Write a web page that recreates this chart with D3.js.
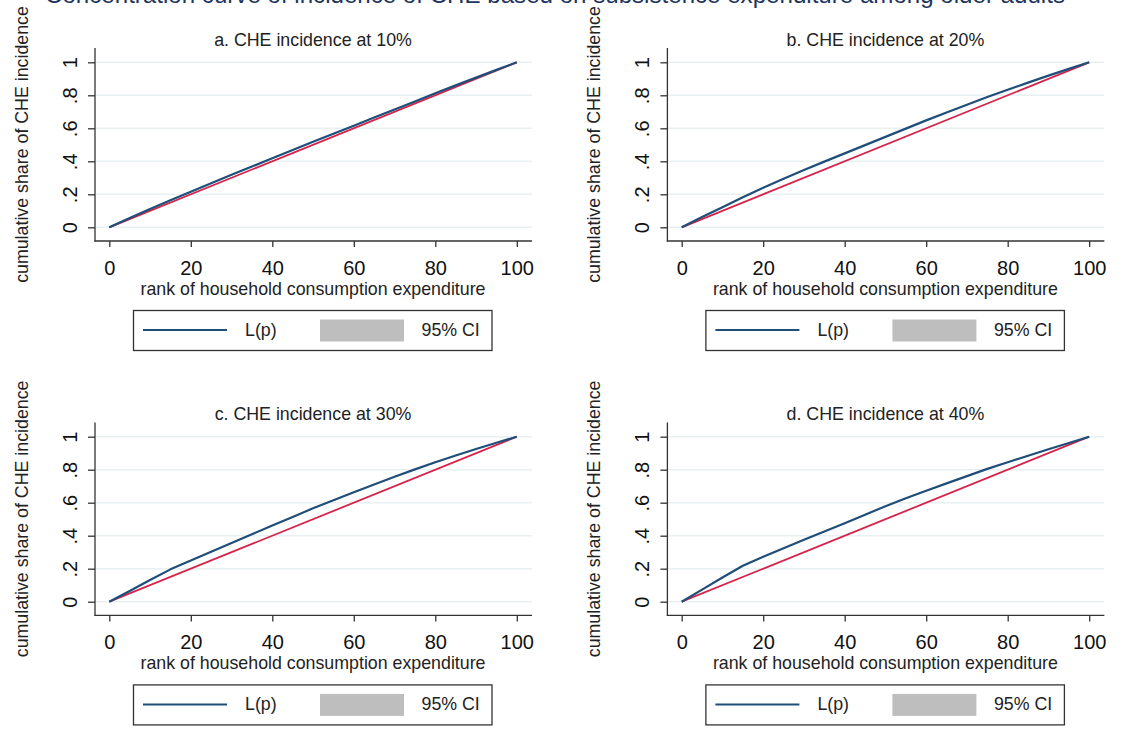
<!DOCTYPE html>
<html><head><meta charset="utf-8">
<script src="https://cdn.jsdelivr.net/npm/d3@7"></script>
<style>
body{margin:0;background:#fff;}
svg{display:block;font-family:"Liberation Sans",Arial,sans-serif;}
</style>
</head><body>
<svg id="chart" width="1125" height="731"></svg>
<script>
// ---- data ----
const mainTitle = "Concentration curve of incidence of CHE based on subsistence expenditure among older adults";
const panelTitles = ["a. CHE incidence at 10%", "b. CHE incidence at 20%", "c. CHE incidence at 30%", "d. CHE incidence at 40%"];
const rankPoints = [0, 5, 10, 15, 20, 25, 30, 35, 40, 45, 50, 55, 60, 65, 70, 75, 80, 85, 90, 95, 100];
const curveA = [0, .056, .111, .164, .216, .267, .318, .368, .418, .468, .518, .567, .616, .665, .714, .763, .812, .860, .907, .954, 1];
const curveB = [0, .062, .122, .182, .240, .294, .347, .398, .448, .498, .548, .598, .648, .696, .743, .790, .834, .877, .919, .960, 1];
const curveC = [0, .065, .131, .196, .250, .303, .356, .409, .462, .514, .566, .615, .663, .710, .757, .802, .845, .886, .925, .963, 1];
const curveD = [0, .073, .147, .218, .272, .324, .375, .425, .476, .527, .579, .627, .672, .717, .761, .805, .845, .885, .924, .962, 1];
const equalityRank = [0, 100];
const equalityShare = [0, 1];
const xTicks = [0, 20, 40, 60, 80, 100];
const yTicks = [0, .2, .4, .6, .8, 1];
const yTickLabels = ["0", ".2", ".4", ".6", ".8", "1"];
const xTitle = "rank of household consumption expenditure";
const yTitle = "cumulative share of CHE incidence";
const legendLabels = ["L(p)", "95% CI"];

const curves = [curveA, curveB, curveC, curveD];
const colNavy = "#1f4e79", colRed = "#d5234a", colGrid = "#e8f0f2", colAxis = "#333";

const svg = d3.select("#chart");
svg.append("rect").attr("width",1125).attr("height",731).attr("fill","#fff");

// main title (mostly cropped at top)
const t = svg.append("text").attr("x",555).attr("y",3).attr("text-anchor","middle")
  .attr("fill","#1e3560").style("font-size","22px").text(mainTitle);
const tl = t.node().getComputedTextLength();
t.style("font-size", (22*1020/tl).toFixed(2)+"px");

const offsets = [[0,0],[572.4,0],[0,374.4],[572.4,374.4]];
const x = d3.scaleLinear().domain([0,100]).range([109.3,516.8]);
const y = d3.scaleLinear().domain([0,1]).range([227.3,62.3]);
const fs = "17.8px";

curves.forEach((cv,i)=>{
  const g = svg.append("g").attr("transform",`translate(${offsets[i][0]},${offsets[i][1]})`);
  // gridlines
  g.append("g").selectAll("line").data(yTicks).join("line")
    .attr("x1",96).attr("x2",532).attr("y1",d=>y(d)).attr("y2",d=>y(d))
    .attr("stroke",colGrid).attr("stroke-width",1.6);
  // axes lines
  g.append("line").attr("x1",95).attr("x2",95).attr("y1",48).attr("y2",241.5).attr("stroke",colAxis).attr("stroke-width",1.3);
  g.append("line").attr("x1",94.4).attr("x2",532).attr("y1",241).attr("y2",241).attr("stroke",colAxis).attr("stroke-width",1.3);
  // y axis
  const ya = g.append("g").attr("transform","translate(95,0)")
    .call(d3.axisLeft(y).tickValues(yTicks).tickSize(7).tickFormat((d,k)=>yTickLabels[k]));
  ya.select(".domain").remove();
  ya.selectAll(".tick line").attr("stroke",colAxis).attr("stroke-width",1.3);
  ya.selectAll(".tick text").attr("x",null).attr("dy",null)
    .attr("transform","translate(-18,0) rotate(-90)").attr("text-anchor","middle")
    .attr("fill","#111").style("font-size","20px").style("font-family","Liberation Sans, Arial, sans-serif");
  // x axis
  const xa = g.append("g").attr("transform","translate(0,241)")
    .call(d3.axisBottom(x).tickValues(xTicks).tickSize(6));
  xa.select(".domain").remove();
  xa.selectAll(".tick line").attr("stroke",colAxis).attr("stroke-width",1.3);
  xa.selectAll(".tick text").attr("y",34).attr("dy",null)
    .attr("fill","#111").style("font-size","20px").style("font-family","Liberation Sans, Arial, sans-serif");
  // titles
  g.append("text").attr("x",313).attr("y",46).attr("text-anchor","middle").attr("fill","#222")
    .style("font-size",fs).text(panelTitles[i]);
  g.append("text").attr("x",313).attr("y",295).attr("text-anchor","middle").attr("fill","#222")
    .style("font-size",fs).text(xTitle);
  g.append("text").attr("transform","translate(28,144.5) rotate(-90)").attr("text-anchor","middle").attr("fill","#222")
    .style("font-size",fs).text(yTitle);
  // lines
  const line = d3.line().x(d=>x(d[0])).y(d=>y(d[1]));
  g.append("path").datum(equalityRank.map((r,k)=>[r,equalityShare[k]]))
    .attr("d",line).attr("fill","none").attr("stroke",colRed).attr("stroke-width",1.8);
  g.append("path").datum(rankPoints.map((r,k)=>[r,cv[k]]))
    .attr("d",line).attr("fill","none").attr("stroke",colNavy).attr("stroke-width",2.2).attr("stroke-linejoin","round");
  // legend
  const lg = g.append("g");
  lg.append("rect").attr("x",133.5).attr("y",310.5).attr("width",358.5).attr("height",40)
    .attr("fill","#fff").attr("stroke","#333").attr("stroke-width",1.3);
  lg.append("line").attr("x1",143).attr("x2",227).attr("y1",330).attr("y2",330).attr("stroke",colNavy).attr("stroke-width",2);
  lg.append("text").attr("x",245).attr("y",336).attr("fill","#222").style("font-size",fs).text(legendLabels[0]);
  lg.append("rect").attr("x",320).attr("y",319.5).attr("width",84).attr("height",22).attr("fill","#bebebe");
  lg.append("text").attr("x",421.5).attr("y",336).attr("fill","#222").style("font-size",fs).text(legendLabels[1]);
});
</script>
</body></html>
